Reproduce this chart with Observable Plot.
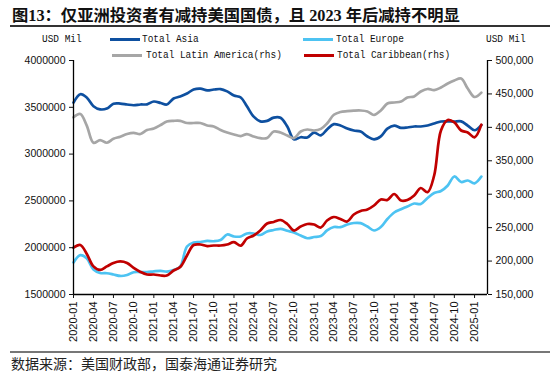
<!DOCTYPE html>
<html><head><meta charset="utf-8">
<script src="https://cdn.jsdelivr.net/npm/d3@7"></script>
<script src="https://cdn.jsdelivr.net/npm/@observablehq/plot@0.6"></script>
<style>
body{margin:0;background:#fff;}
#wrap{position:relative;width:550px;height:373px;overflow:hidden;background:#fff;}
.title{position:absolute;left:12px;top:2px;font-family:"Liberation Serif","Noto Sans CJK SC";font-weight:bold;font-size:16.3px;color:#111;white-space:nowrap;}
.rule1{position:absolute;left:10px;right:0;top:25px;height:2px;background:#333;}
.lg{position:absolute;font-family:"Liberation Mono",monospace;font-size:11.5px;line-height:12px;white-space:nowrap;transform:scaleX(0.82);transform-origin:left center;color:#111;}
.sw{position:absolute;height:3px;width:30px;}
#chart{position:absolute;left:0;top:30px;}
.rule2{position:absolute;left:10px;right:0;top:351px;height:1.5px;background:#777;}
.cap{position:absolute;left:11px;top:353px;font-family:"Noto Sans CJK SC";font-size:14px;color:#222;white-space:nowrap;}
</style></head>
<body>
<div id="wrap">
  <div class="title">图13：仅亚洲投资者有减持美国国债，且 2023 年后减持不明显</div>
  <div class="rule1"></div>
  <div id="chart"></div>
  <div class="lg" style="left:42px;top:33px;">USD Mil</div>
  <div class="lg" style="left:486px;top:33px;">USD Mil</div>
  <div class="sw" style="left:110px;top:37.5px;background:#0E50A0"></div>
  <div class="lg" style="left:142px;top:33px;">Total Asia</div>
  <div class="sw" style="left:303px;top:37.5px;background:#4DC3F2"></div>
  <div class="lg" style="left:336px;top:33px;">Total Europe</div>
  <div class="sw" style="left:112px;top:53.5px;background:#A6A6A6"></div>
  <div class="lg" style="left:146px;top:49px;">Total Latin America(rhs)</div>
  <div class="sw" style="left:304px;top:53.5px;background:#C00000"></div>
  <div class="lg" style="left:337px;top:49px;">Total Caribbean(rhs)</div>
  <div class="rule2"></div>
  <div class="cap">数据来源：美国财政部，国泰海通证券研究</div>
</div>
<script>
const months = ["2020-01","2020-02","2020-03","2020-04","2020-05","2020-06","2020-07","2020-08","2020-09","2020-10","2020-11","2020-12",
"2021-01","2021-02","2021-03","2021-04","2021-05","2021-06","2021-07","2021-08","2021-09","2021-10","2021-11","2021-12",
"2022-01","2022-02","2022-03","2022-04","2022-05","2022-06","2022-07","2022-08","2022-09","2022-10","2022-11","2022-12",
"2023-01","2023-02","2023-03","2023-04","2023-05","2023-06","2023-07","2023-08","2023-09","2023-10","2023-11","2023-12",
"2024-01","2024-02","2024-03","2024-04","2024-05","2024-06","2024-07","2024-08","2024-09","2024-10","2024-11","2024-12",
"2025-01","2025-02"];
const tickLabels = ["2020-01","2020-04","2020-07","2020-10","2021-01","2021-04","2021-07","2021-10","2022-01","2022-04","2022-07","2022-10",
"2023-01","2023-04","2023-07","2023-10","2024-01","2024-04","2024-07","2024-10","2025-01"];
const leftTicks = [1500000,2000000,2500000,3000000,3500000,4000000];
const rightTicks = [150000,200000,250000,300000,350000,400000,450000,500000];

const asia = [3550000,3640000,3605000,3512000,3478000,3487000,3538000,3540000,3530000,3522000,3530000,3532000,
3562000,3546000,3530000,3594000,3615000,3647000,3690000,3700000,3680000,3690000,3695000,3670000,
3626000,3605000,3510000,3400000,3350000,3355000,3390000,3388000,3295000,3158000,3180000,3177000,
3230000,3200000,3263000,3320000,3305000,3273000,3252000,3241000,3188000,3158000,3190000,3273000,
3305000,3280000,3284000,3295000,3295000,3305000,3327000,3348000,3350000,3348000,3350000,3305000,
3255000,3310000];
const europe = [1842000,1920000,1888000,1767000,1730000,1727000,1714000,1698000,1708000,1738000,1740000,1740000,
1748000,1753000,1745000,1762000,1799000,2013000,2056000,2061000,2072000,2069000,2082000,2141000,
2120000,2120000,2152000,2152000,2136000,2173000,2189000,2202000,2181000,2162000,2130000,2101000,
2114000,2125000,2184000,2221000,2219000,2248000,2264000,2262000,2226000,2184000,2221000,2307000,
2376000,2411000,2440000,2472000,2467000,2531000,2584000,2606000,2665000,2761000,2702000,2718000,
2688000,2760000];
const latinAmerica = [415000,420000,403000,377000,381000,377000,383000,386000,390000,391600,390000,396000,
398300,403500,408800,409800,409800,406500,406500,406500,402800,401300,396000,392300,
389300,387000,390000,386300,383800,384000,393800,392300,387800,383800,393800,396800,
395300,397800,405800,418800,423000,424200,425000,425200,423700,418500,425200,435700,
437200,438700,444700,446200,453600,457400,455600,459600,465600,470100,473100,458100,
445400,452000];
const caribbean = [220000,224000,211000,192000,186700,192000,197100,199400,197100,189700,183700,179900,
179900,178400,178400,185900,191100,208300,224000,224800,222500,223300,223300,224800,
228200,223000,233800,238300,245700,256200,258400,261400,255500,245700,251700,255500,
254700,250200,260700,265900,262900,259200,269700,274900,277200,283100,292100,291400,
300300,290600,291400,298100,309300,303000,328000,395300,411000,407300,395300,392300,
385000,404000];

const parseM = s => new Date(s + "-01T00:00:00Z");
const xStart = parseM("2020-01"), xEnd = parseM("2025-03");
const toL = v => 1500000 + (v - 150000) * (2500000 / 350000);
const fromL = d => Math.round(150000 + (d - 1500000) * 0.14);
const rows = (arr, f) => months.map((m, i) => ({date: parseM(m), v: f ? f(arr[i]) : arr[i]}));

const lineOpts = (c) => ({x: "date", y: "v", stroke: c, strokeWidth: 2.7, curve: "catmull-rom"});

const chart = Plot.plot({
  width: 550, height: 322,
  marginLeft: 73, marginRight: 63, marginTop: 30, marginBottom: 58,
  style: {fontFamily: "Liberation Sans, Arial, sans-serif", color: "#111", background: "transparent", overflow: "visible"},
  x: {type: "utc", domain: [xStart, xEnd], axis: null},
  y: {domain: [1500000, 4000000], axis: null},
  marks: [
    Plot.lineY(rows(asia), lineOpts("#0E50A0")),
    Plot.lineY(rows(europe), lineOpts("#4DC3F2")),
    Plot.lineY(rows(latinAmerica, toL), lineOpts("#A6A6A6")),
    Plot.lineY(rows(caribbean, toL), lineOpts("#C00000")),
    Plot.ruleX([xStart], {stroke: "#000", strokeWidth: 1.3}),
    Plot.ruleX([xEnd], {stroke: "#000", strokeWidth: 1.3}),
    Plot.ruleY([1500000], {stroke: "#000", strokeWidth: 1.3}),
    Plot.axisY({ticks: leftTicks, tickFormat: d => String(d), tickSize: 4, tickPadding: 4, label: null, fontSize: 10.5}),
    Plot.axisY({anchor: "right", ticks: rightTicks.map(toL), tickFormat: fromL, tickSize: 4, tickPadding: 4, label: null, fontSize: 10.5}),
    Plot.axisX({ticks: tickLabels.map(parseM), tickFormat: d3.utcFormat("%Y-%m"), tickRotate: -90, tickSize: 4, tickPadding: 3, label: null, fontSize: 11})
  ]
});
document.getElementById("chart").appendChild(chart);
</script>
</body></html>
